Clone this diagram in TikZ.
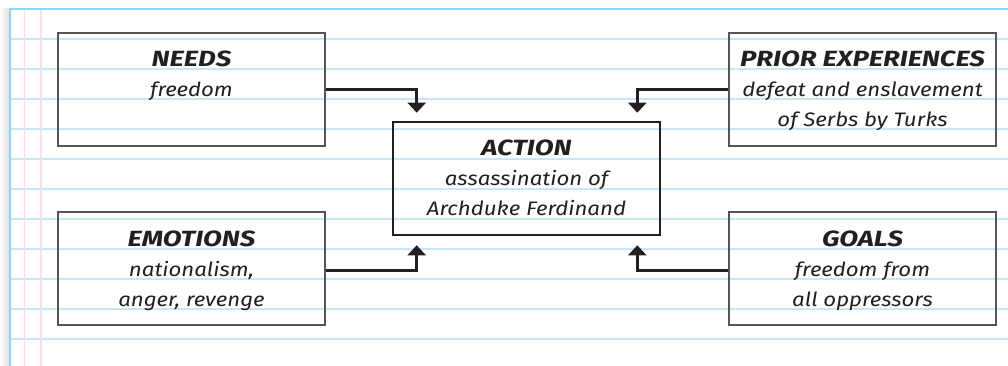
\documentclass[tikz,border=0pt]{standalone}
\usepackage{fontspec}
\setmainfont{Fira Sans}
\newfontfamily\headfont{Fira Sans}[FakeStretch=1.25]
\newfontfamily\handfont{Fira Sans}[FakeStretch=1.14]
\usetikzlibrary{arrows.meta}
\definecolor{rule}{HTML}{C9E6F5}
\definecolor{edge}{HTML}{8ED4F6}
\definecolor{margin}{HTML}{F9DFE9}
\definecolor{ink}{HTML}{231F20}
\definecolor{frame}{HTML}{555555}
\begin{document}
\begin{tikzpicture}[x=1pt,y=-1pt,
  box/.style={draw=frame, line width=1.4pt, minimum width=267pt,
    minimum height=113pt, inner sep=0pt},
  mainbox/.style={box, draw=ink, line width=2.6pt},
  head/.style={anchor=base, inner sep=0pt, text=ink,
    font=\headfont\bfseries\itshape\fontsize{22}{22}\selectfont},
  body/.style={anchor=base, inner sep=0pt, text=ink,
    font=\handfont\itshape\fontsize{19.5}{19.5}\selectfont},
  link/.style={draw=ink, line width=2.7pt,
    -{Triangle[width=18pt,length=10pt]}},
]
\useasboundingbox (0,0) rectangle (1008,366);
% ruled sheet
\fill[white] (0,0) rectangle (1008,366);
\shade[left color=white, right color=black!12] (0,9) rectangle (9.5,366);
\foreach \y in {39,69,...,339}
  \draw[rule, line width=1.3pt] (11,\y) -- (1008,\y);
\foreach \x in {24.7,41}
  \draw[margin, line width=1.5pt] (\x,10) -- (\x,366);
\draw[edge, line width=1.6pt] (1008,9) -- (10,9) -- (10,366);

% boxes
\node[box] (needs) at (191.5,89.5) {};
\node[box] (prior) at (862.5,89.5) {};
\node[box] (emotions) at (191.5,268.5) {};
\node[box] (goals) at (862.5,268.5) {};
\node[mainbox] (action) at (526.5,178.5) {};

% box texts
\node[head] (needsT) at ([yshift=-34pt]needs.north) {NEEDS};
\node[body] (needsA) at ([yshift=-64pt]needs.north) {freedom};

\node[head] (priorT) at ([yshift=-34pt]prior.north) {PRIOR EXPERIENCES};
\node[body] (priorA) at ([yshift=-64pt]prior.north) {defeat and enslavement};
\node[body] (priorB) at ([yshift=-94pt]prior.north) {of Serbs by Turks};

\node[head] (actionT) at ([yshift=-35pt]action.north) {ACTION};
\node[body] (actionA) at ([yshift=-65pt]action.north) {assassination of};
\node[body] (actionB) at ([yshift=-95pt]action.north) {Archduke Ferdinand};

\node[head] (emotionsT) at ([yshift=-35pt]emotions.north) {EMOTIONS};
\node[body] (emotionsA) at ([yshift=-65pt]emotions.north) {nationalism,};
\node[body] (emotionsB) at ([yshift=-95pt]emotions.north) {anger, revenge};

\node[head] (goalsT) at ([yshift=-35pt]goals.north) {GOALS};
\node[body] (goalsA) at ([yshift=-65pt]goals.north) {freedom from};
\node[body] (goalsB) at ([yshift=-95pt]goals.north) {all oppressors};

% connectors into the action box
\draw[link] (needs.east) -| ([xshift=25pt,yshift=8pt]action.north west);
\draw[link] (prior.west) -| ([xshift=-24pt,yshift=8pt]action.north east);
\draw[link] ([yshift=-2pt]emotions.east) -| ([xshift=25pt,yshift=-9pt]action.south west);
\draw[link] ([yshift=-2pt]goals.west) -| ([xshift=-24pt,yshift=-9pt]action.south east);
\end{tikzpicture}
\end{document}
